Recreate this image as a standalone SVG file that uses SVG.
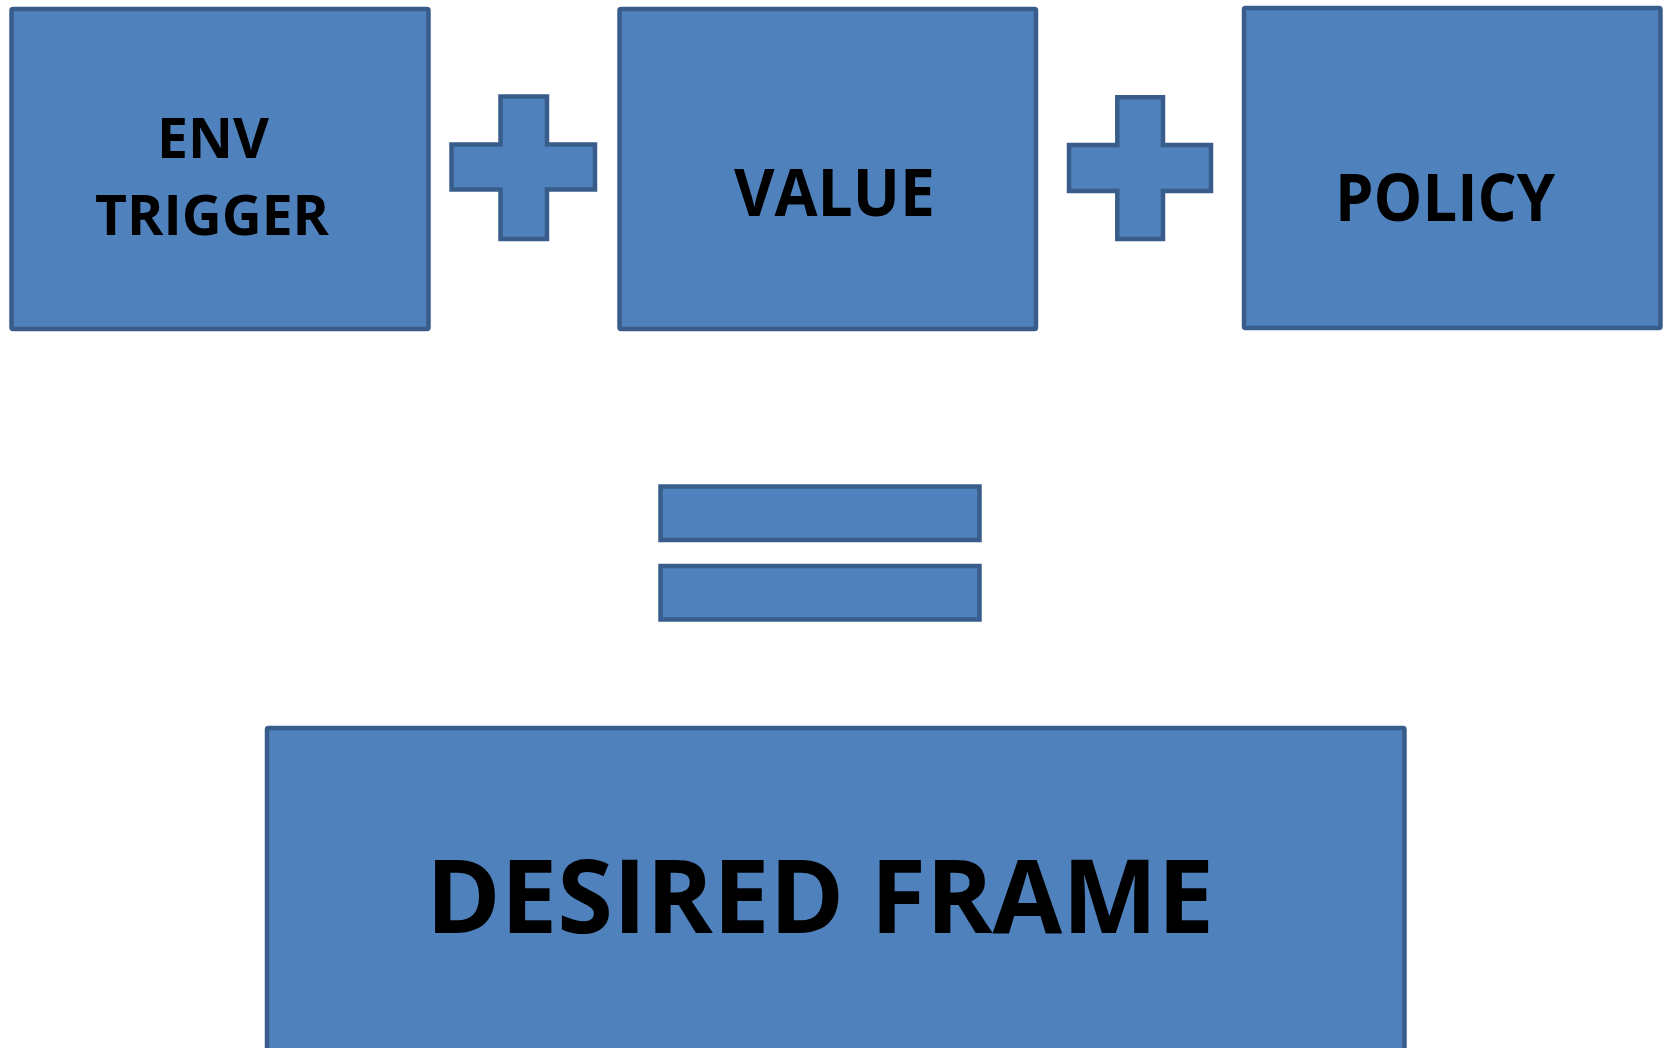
<svg xmlns="http://www.w3.org/2000/svg" width="1667" height="1048" viewBox="0 0 1667 1048">
  <style>
    .shape { fill: #4F81BD; stroke: #385D8A; stroke-width: 4.5; stroke-linejoin: miter; }
    .label { font-family: "Open Sans", "Liberation Sans", sans-serif; font-weight: bold; fill: #000000; }
    .small { font-size: 56px; }
    .mid { font-size: 67px; }
    .big { font-size: 102px; }
  </style>
  <rect x="0" y="0" width="1667" height="1048" fill="#FFFFFF"/>

  <g id="env-trigger">
    <rect class="shape" x="11.5" y="9" width="417" height="320" rx="1.5"/>
    <text class="label small" x="157" y="158" textLength="112" lengthAdjust="spacingAndGlyphs">ENV</text>
    <text class="label small" x="95" y="235" textLength="234" lengthAdjust="spacingAndGlyphs">TRIGGER</text>
  </g>

  <g id="plus-1">
    <path class="shape" d="M500.5,96.5 H547 V144.5 H595 V189.5 H547 V239 H500.5 V189.5 H451.5 V144.5 H500.5 Z"/>
  </g>

  <g id="value">
    <rect class="shape" x="619.5" y="9" width="416.5" height="320" rx="1.5"/>
    <text class="label mid" x="734" y="216" textLength="201" lengthAdjust="spacingAndGlyphs">VALUE</text>
  </g>

  <g id="plus-2">
    <path class="shape" d="M1117.3,97.3 H1163 V145 H1211 V191 H1163 V239 H1117.3 V191 H1069 V145 H1117.3 Z"/>
  </g>

  <g id="policy">
    <rect class="shape" x="1244" y="8" width="416.5" height="320" rx="1.5"/>
    <text class="label mid" x="1335" y="221" textLength="220" lengthAdjust="spacingAndGlyphs">POLICY</text>
  </g>

  <g id="equals">
    <rect class="shape" x="660.5" y="486.5" width="319" height="53.5"/>
    <rect class="shape" x="660.5" y="566" width="319" height="53.5"/>
  </g>

  <g id="desired-frame">
    <rect class="shape" x="267" y="728" width="1137.5" height="340" rx="1.5"/>
    <text class="label big" x="426" y="933" textLength="788" lengthAdjust="spacingAndGlyphs">DESIRED FRAME</text>
  </g>

  <g id="connectors"></g>
</svg>
